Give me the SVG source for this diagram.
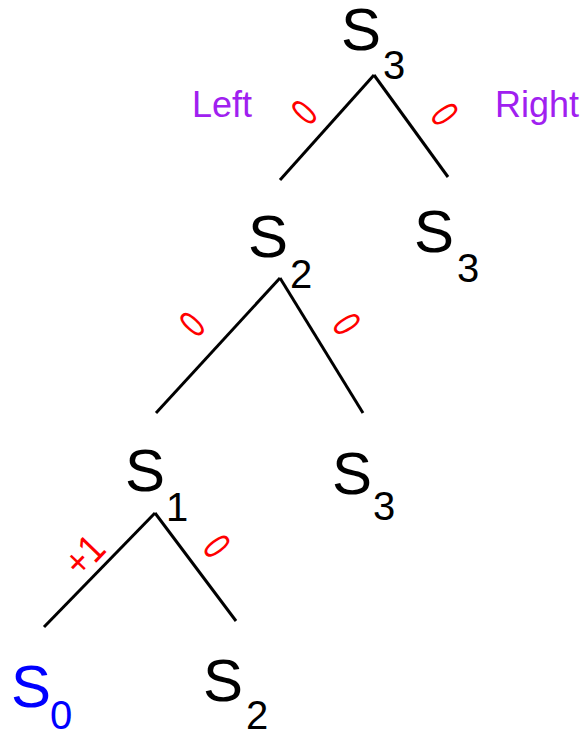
<svg xmlns="http://www.w3.org/2000/svg" width="586" height="732" viewBox="0 0 586 732">
<style>
.s{font-family:"Liberation Sans",Arial,sans-serif;font-size:60px;fill:#000}
.sub{font-size:40px}
.blue{fill:#0000FF}
.w{font-family:"Liberation Sans",Arial,sans-serif;font-size:40px;fill:#FF0000;text-anchor:middle}
.side{font-family:"Liberation Sans",Arial,sans-serif;font-size:36px;fill:#A020F0}
.e{stroke:#000;stroke-width:3;fill:none}
</style>
<rect width="586" height="732" fill="#fff"/>
<g id="connectors">
<line class="e" x1="374" y1="75" x2="280" y2="180"/>
<line class="e" x1="374" y1="75" x2="448" y2="177"/>
<line class="e" x1="280" y1="278" x2="156" y2="413"/>
<line class="e" x1="280" y1="278" x2="363" y2="413"/>
<line class="e" x1="155" y1="513" x2="44" y2="627"/>
<line class="e" x1="155" y1="513" x2="236" y2="621"/>
</g>
<g id="edge-labels">
<text class="w" transform="translate(304,112) rotate(-48) scale(0.7,1)" y="14">0</text>
<text class="w" transform="translate(445,114) rotate(55) scale(0.7,1)" y="14">0</text>
<text class="w" transform="translate(192,324) rotate(-47) scale(0.7,1)" y="14">0</text>
<text class="w" transform="translate(347,324) rotate(58) scale(0.7,1)" y="14">0</text>
<text class="w" transform="translate(84,555) rotate(-46) scale(0.85,1)" y="14">+1</text>
<text class="w" transform="translate(217,546) rotate(53) scale(0.7,1)" y="14">0</text>
</g>
<g id="side-labels">
<text class="side" x="192" y="117">Left</text>
<text class="side" x="495" y="117">Right</text>
</g>
<g id="n-s3-root"><text class="s" x="341" y="50">S<tspan class="sub" x="383" y="79">3</tspan></text></g>
<g id="n-s3-right"><text class="s" x="414" y="252">S<tspan class="sub" x="457" y="282">3</tspan></text></g>
<g id="n-s2"><text class="s" x="248" y="257">S<tspan class="sub" x="290" y="288">2</tspan></text></g>
<g id="n-s3-mid"><text class="s" x="332" y="494">S<tspan class="sub" x="373" y="520">3</tspan></text></g>
<g id="n-s1"><text class="s" x="125" y="491">S<tspan class="sub" x="166" y="521">1</tspan></text></g>
<g id="n-s0"><text class="s blue" x="11" y="707">S<tspan class="sub" x="50" y="729">0</tspan></text></g>
<g id="n-s2-bottom"><text class="s" x="203" y="701">S<tspan class="sub" x="246" y="729">2</tspan></text></g>
</svg>
